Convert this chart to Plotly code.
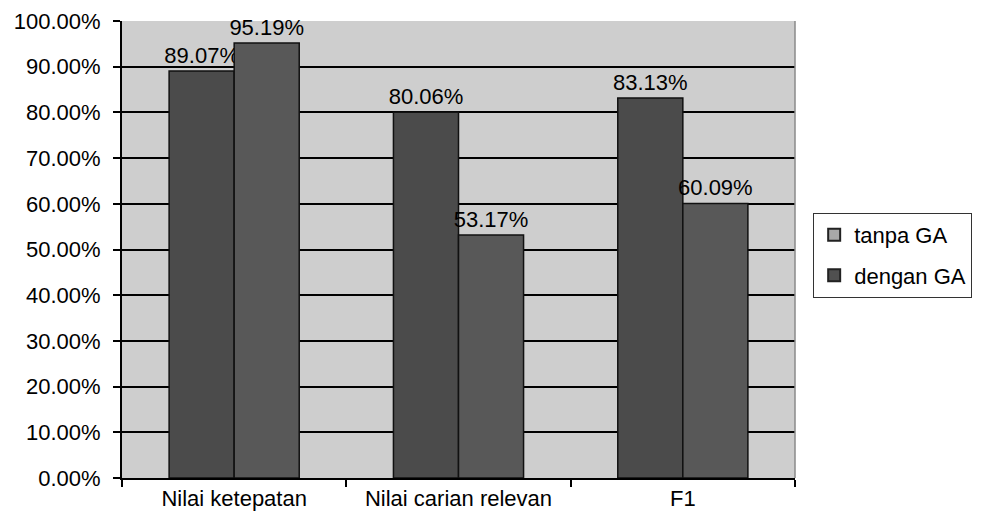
import plotly.graph_objects as go

categories = ["Nilai ketepatan", "Nilai carian relevan", "F1"]
tanpa_ga = [0.8907, 0.8006, 0.8313]
dengan_ga = [0.9519, 0.5317, 0.6009]
series_names = ["tanpa GA", "dengan GA"]

FONT = "Liberation Sans, Arial, sans-serif"
FS = 22

fig = go.Figure()
fig.add_trace(go.Bar(
    x=categories, y=tanpa_ga, name=series_names[0], showlegend=False,
    marker=dict(color="#4b4b4b", line=dict(color="#111111", width=1.5)),
    text=[f"{v*100:.2f}%" for v in tanpa_ga], textposition="outside", constraintext="none",
    textfont=dict(family=FONT, size=FS, color="black"), cliponaxis=False,
))
fig.add_trace(go.Bar(
    x=categories, y=dengan_ga, name=series_names[1], showlegend=False,
    marker=dict(color="#585858", line=dict(color="#111111", width=1.5)),
    text=[f"{v*100:.2f}%" for v in dengan_ga], textposition="outside", constraintext="none",
    textfont=dict(family=FONT, size=FS, color="black"), cliponaxis=False,
))
# legend entries (matching original legend swatches)
fig.add_trace(go.Scatter(x=[None], y=[None], mode="markers", name=series_names[0],
                         legendgroup="a",
                         marker=dict(symbol="square", size=10, color="#a8a8a8",
                                     line=dict(color="#222222", width=1.2))))
fig.add_trace(go.Scatter(x=[None], y=[None], mode="markers", name=series_names[1],
                         legendgroup="b",
                         marker=dict(symbol="square", size=10, color="#505050",
                                     line=dict(color="#222222", width=1.2))))

fig.update_layout(
    width=976, height=512,
    margin=dict(l=114, r=187, t=13, b=42),
    paper_bgcolor="white", plot_bgcolor="#cecece",
    barmode="group", bargap=0.42, bargroupgap=0,
    font=dict(family=FONT, size=FS, color="black"),
    legend=dict(x=1.027, y=0.487, xanchor="left", yanchor="middle",
                bgcolor="white", bordercolor="#333333", borderwidth=1,
                font=dict(family=FONT, size=FS, color="black"),
                itemsizing="constant", tracegroupgap=9),
)
fig.update_xaxes(
    type="category", showgrid=False, showline=True, linecolor="black", linewidth=2,
    ticks="outside", tickson="boundaries", ticklen=7, tickwidth=2, tickcolor="black",
    tickfont=dict(family=FONT, size=FS, color="black"), automargin=False,
)
fig.update_yaxes(
    range=[0, 1], dtick=0.1, tick0=0, tickformat=".2%",
    showgrid=True, gridcolor="black", gridwidth=1.5,
    showline=True, linecolor="black", linewidth=2,
    ticks="outside", ticklen=7, tickwidth=2, tickcolor="black", ticklabelstandoff=8,
    ticklabeloverflow="allow",
    tickfont=dict(family=FONT, size=FS, color="black"), zeroline=False, automargin=False,
)
fig.add_shape(type="line", xref="paper", yref="paper", x0=1, x1=1, y0=0, y1=1,
              line=dict(color="#8a8a8a", width=1.5), layer="above")

fig.write_html("out.html")
